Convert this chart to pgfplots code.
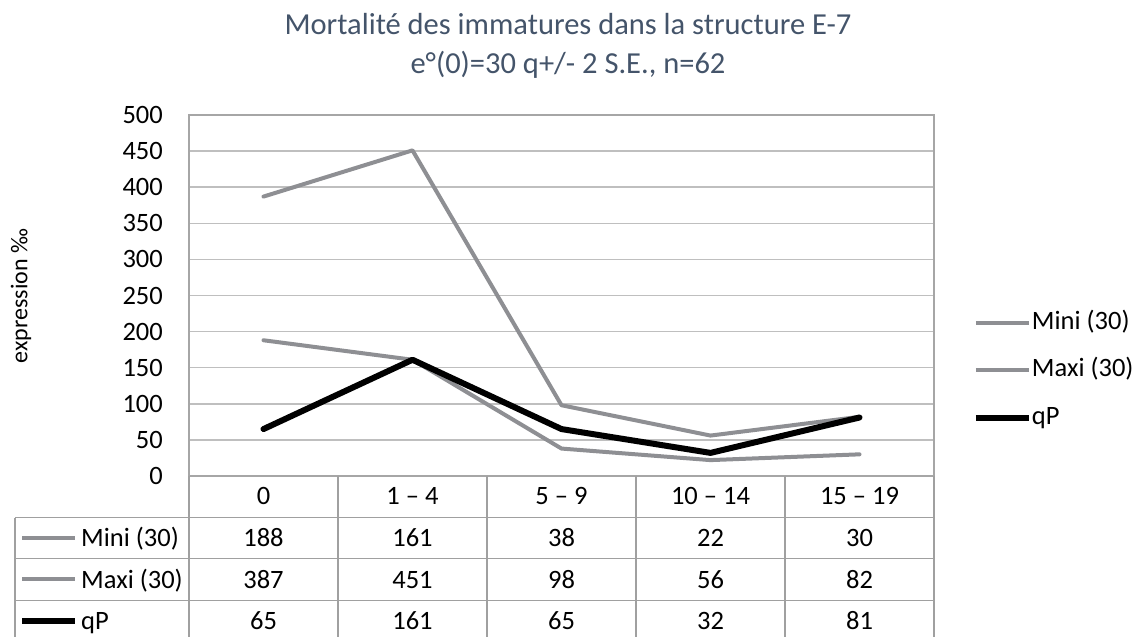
\documentclass[border=0pt]{standalone}
\usepackage{pgfplots}
\pgfplotsset{compat=1.18}
\usepackage{fontspec}
\setmainfont{Carlito}
\definecolor{sgray}{RGB}{142,143,147}
\definecolor{gridc}{RGB}{191,191,191}
\definecolor{framec}{RGB}{166,166,166}
\definecolor{tablec}{RGB}{160,160,160}
\definecolor{titlec}{RGB}{68,84,106}
\begin{document}
\begin{tikzpicture}[x=1pt,y=1pt]
\path[use as bounding box] (0,0) rectangle (1136,637);
\begin{axis}[
 at={(189pt,161pt)}, anchor=south west,
 scale only axis, width=745pt, height=361pt,
 xmin=-0.5, xmax=4.5, ymin=0, ymax=500,
 ytick={0,50,...,500},
 xtick={0,1,2,3,4},
 xticklabels={0,1 – 4,5 – 9,10 – 14,15 – 19},
 major tick length=0pt,
 ymajorgrids,
 grid style={gridc, line width=1.5pt},
 axis line style={framec, line width=2pt},
 tick label style={font=\fontsize{26.5}{32}\selectfont},
 /pgf/number format/assume math mode=true,
 yticklabel style={anchor=east, inner sep=0pt, xshift=-26pt},
 xticklabel style={anchor=base, inner sep=0pt, yshift=-29pt},
 legend style={at={(1.0523,0.4593)}, anchor=north west, draw=none, fill=none,
   inner sep=0pt, outer sep=0pt, font=\fontsize{26.5}{32}\selectfont,
   nodes={inner sep=0pt, text height=19pt, text depth=6pt},
   row sep=22.5pt, column sep=0pt},
 legend cell align=left,
 legend image code/.code={\draw[#1, line cap=butt] (0pt,0pt) -- (53pt,0pt);},
 every axis plot/.append style={line cap=round, line join=round},
]
\addplot[sgray, line width=4pt] coordinates {(0,188)(1,161)(2,38)(3,22)(4,30)};
\addlegendentry{Mini (30)}
\addplot[sgray, line width=4pt] coordinates {(0,387)(1,451)(2,98)(3,56)(4,82)};
\addlegendentry{Maxi (30)}
\addplot[black, line width=6pt] coordinates {(0,65)(1,161)(2,65)(3,32)(4,81)};
\addlegendentry{qP}
\end{axis}
% data table
\begin{scope}[draw=tablec, line width=1.5pt]
\draw (15,119.3) -- (934,119.3);
\draw (15,78.7) -- (934,78.7);
\draw (15,36.3) -- (934,36.3);
\draw (15,119.3) -- (15,0);
\foreach \x in {189,338,487,636,785,934} \draw (\x,161) -- (\x,0);
\end{scope}
\begin{scope}[font=\fontsize{26.5}{32}\selectfont]
\draw[sgray, line width=4pt] (22,99.3) -- (75,99.3);
\draw[sgray, line width=4pt] (22,57.7) -- (75,57.7);
\draw[black, line width=6pt] (22,16) -- (75,16);
\node[anchor=base west, inner sep=0pt] at (81,90.3) {Mini (30)};
\node[anchor=base west, inner sep=0pt] at (81,48.7) {Maxi (30)};
\node[anchor=base west, inner sep=0pt] at (81,7) {qP};
\foreach \v [count=\i from 0] in {188,161,38,22,30} \node[anchor=base, inner sep=0pt] at (263.5+149*\i,90.3) {\v};
\foreach \v [count=\i from 0] in {387,451,98,56,82} \node[anchor=base, inner sep=0pt] at (263.5+149*\i,48.7) {\v};
\foreach \v [count=\i from 0] in {65,161,65,32,81} \node[anchor=base, inner sep=0pt] at (263.5+149*\i,7) {\v};
\end{scope}
\node[rotate=90, font=\fontsize{24}{29}\selectfont] at (21,341) {expression ‰};
\node[anchor=base, font=\fontsize{30.5}{37}\selectfont, text=titlec] at (568,602) {Mortalité des immatures dans la structure E-7};
\node[anchor=base, font=\fontsize{30.5}{37}\selectfont, text=titlec] at (568,563.7) {e°(0)=30 q+/- 2 S.E., n=62};
\end{tikzpicture}
\end{document}
